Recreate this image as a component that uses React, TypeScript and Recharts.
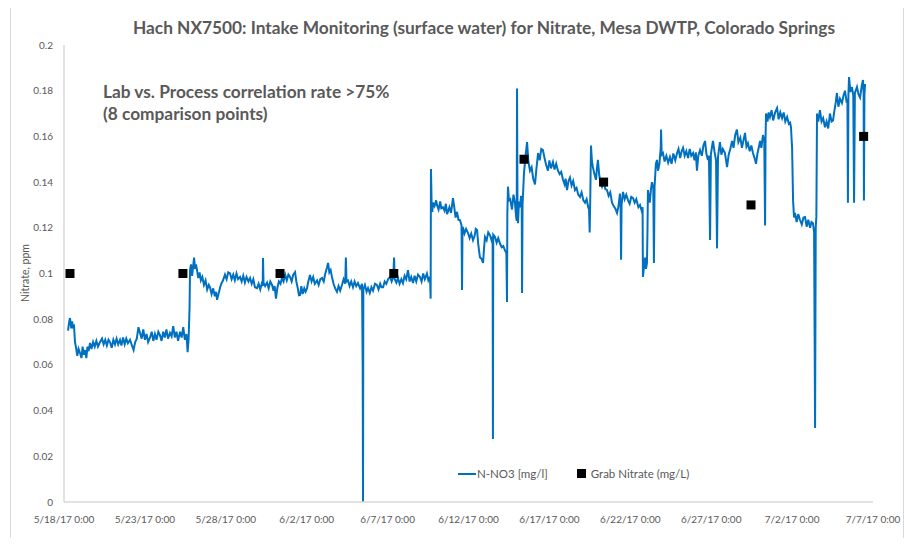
import { ComposedChart, Line, Scatter, XAxis, YAxis } from "recharts";

// days since 5/18/17 0:00
const xTicks = [0, 5, 10, 15, 20, 25, 30, 35, 40, 45, 50];
const xTickLabels = [
  "5/18/17 0:00", "5/23/17 0:00", "5/28/17 0:00", "6/2/17 0:00", "6/7/17 0:00", "6/12/17 0:00",
  "6/17/17 0:00", "6/22/17 0:00", "6/27/17 0:00", "7/2/17 0:00", "7/7/17 0:00",
];
const yTicks = [0, 0.02, 0.04, 0.06, 0.08, 0.1, 0.12, 0.14, 0.16, 0.18, 0.2];

const grabDays = [0.37, 7.35, 13.35, 20.38, 28.43, 33.35, 42.46, 49.42];
const grabNitrate = [0.1, 0.1, 0.1, 0.1, 0.15, 0.14, 0.13, 0.16];

// N-NO3 probe readings [day, mg/l]
const lowPlateau = [
  [0.25,0.075],[0.3,0.078],[0.37,0.0805],[0.45,0.076],[0.5,0.079],[0.56,0.0766],[0.62,0.077],[0.68,0.07],[0.74,0.0678],
  [0.82,0.064],[0.9,0.067],[0.99,0.0652],[1.08,0.063],[1.15,0.068],[1.22,0.0645],[1.3,0.0665],[1.38,0.063],[1.45,0.068],
  [1.52,0.066],[1.61,0.0696],[1.7,0.067],[1.8,0.07],[1.9,0.068],[2.0,0.0705],[2.1,0.068],[2.23,0.07],[2.35,0.0715],
  [2.45,0.069],[2.55,0.071],[2.65,0.0685],[2.75,0.071],[2.84,0.07],[2.95,0.0675],[3.05,0.071],[3.15,0.069],[3.25,0.0715],
  [3.35,0.069],[3.46,0.0709],[3.55,0.0685],[3.65,0.072],[3.75,0.069],[3.85,0.0715],[3.95,0.0695],[4.08,0.071],[4.2,0.0685],
  [4.3,0.0665],[4.4,0.07],[4.5,0.0715],[4.6,0.0765],[4.7,0.074],[4.8,0.0715],[4.9,0.0755],[5.0,0.071],[5.1,0.0735],
  [5.2,0.07],[5.32,0.072],[5.42,0.0745],[5.52,0.0705],[5.62,0.0735],[5.72,0.071],[5.83,0.0745],[5.93,0.073],[6.03,0.0705],
  [6.13,0.0745],[6.23,0.072],[6.33,0.0755],[6.43,0.0715],[6.55,0.074],[6.65,0.0725],[6.75,0.077],[6.85,0.072],[6.95,0.0745],
  [7.05,0.0705],[7.17,0.0745],[7.27,0.072],[7.37,0.0765],[7.47,0.071],[7.57,0.0735],[7.64,0.0656],[7.7,0.071],[7.76,0.085],
  [7.79,0.1015],
];

const midPlateau = [
  [7.85,0.104],[7.92,0.099],[7.98,0.103],[8.04,0.107],[8.1,0.102],[8.16,0.104],[8.22,0.1015],[8.3,0.098],[8.38,0.1005],
  [8.46,0.097],[8.55,0.0985],[8.65,0.095],[8.75,0.097],[8.85,0.093],[8.95,0.095],[9.02,0.094],[9.12,0.091],[9.22,0.0935],
  [9.32,0.09],[9.4,0.092],[9.46,0.0885],[9.55,0.091],[9.65,0.094],[9.75,0.096],[9.83,0.097],[9.95,0.0995],[10.05,0.0975],
  [10.15,0.1005],[10.26,0.1],[10.36,0.0975],[10.46,0.0995],[10.56,0.097],[10.66,0.1],[10.76,0.0975],[10.88,0.0985],
  [10.98,0.0965],[11.08,0.099],[11.18,0.096],[11.28,0.0985],[11.4,0.0965],[11.5,0.098],[11.6,0.0955],[11.7,0.0975],
  [11.8,0.094],[11.93,0.0936],[12.03,0.0955],[12.13,0.093],[12.22,0.0955],[12.28,0.0945],[12.3,0.1068],[12.33,0.096],
  [12.43,0.0945],[12.55,0.096],[12.65,0.0935],[12.75,0.0965],[12.86,0.095],[12.95,0.0925],[13.02,0.0945],[13.1,0.089],
  [13.18,0.0935],[13.28,0.0965],[13.38,0.0955],[13.47,0.098],[13.57,0.0965],[13.67,0.0995],[13.77,0.097],[13.87,0.0995],
  [13.97,0.0985],[14.07,0.0965],[14.17,0.0995],[14.28,0.1006],[14.36,0.0965],[14.45,0.0935],[14.52,0.0905],[14.59,0.0906],
  [14.67,0.0945],[14.75,0.091],[14.85,0.0935],[14.93,0.092],[15.02,0.0936],[15.1,0.0965],[15.2,0.0993],[15.3,0.0965],
  [15.4,0.0985],[15.5,0.0955],[15.64,0.097],[15.74,0.095],[15.84,0.0975],[15.95,0.098],[16.05,0.0965],[16.15,0.1],
  [16.25,0.1025],[16.32,0.1046],[16.4,0.1005],[16.48,0.1015],[16.56,0.0985],[16.66,0.0955],[16.76,0.0935],[16.87,0.092],
  [16.97,0.0945],[17.07,0.0925],[17.18,0.095],[17.28,0.0975],[17.38,0.0955],[17.42,0.107],[17.46,0.0965],[17.55,0.097],
  [17.65,0.0945],[17.75,0.0965],[17.86,0.094],[17.96,0.0965],[18.06,0.0945],[18.17,0.0958],[18.3,0.0935],[18.42,0.0955],
  [18.46,0.059],[18.48,0],[18.5,0.093],[18.6,0.095],[18.7,0.092],[18.79,0.0936],[18.9,0.0915],[19.0,0.094],[19.1,0.0925],
  [19.22,0.0955],[19.34,0.095],[19.44,0.093],[19.54,0.0955],[19.62,0.094],[19.72,0.094],[19.82,0.0965],[19.92,0.0955],
  [20.03,0.0975],[20.15,0.0985],[20.25,0.0965],[20.35,0.0985],[20.4,0.107],[20.44,0.0975],[20.54,0.096],[20.64,0.098],
  [20.74,0.0955],[20.85,0.0975],[20.95,0.0958],[21.05,0.099],[21.15,0.0975],[21.26,0.1015],[21.36,0.0965],[21.46,0.0985],
  [21.57,0.0958],[21.67,0.099],[21.77,0.0965],[21.88,0.0995],[22.0,0.0985],[22.1,0.0965],[22.2,0.1],[22.3,0.0975],
  [22.43,0.1],[22.52,0.097],[22.62,0.0985],[22.66,0.089],[22.68,0.1457],
];

const riseSection = [
  [22.72,0.131],[22.76,0.127],[22.81,0.131],[22.9,0.1295],[23.0,0.132],[23.05,0.13],[23.15,0.128],[23.25,0.1315],
  [23.32,0.1285],[23.42,0.129],[23.52,0.1275],[23.6,0.1305],[23.68,0.126],[23.73,0.127],[23.82,0.129],[23.92,0.1265],
  [24.04,0.133],[24.12,0.129],[24.2,0.1245],[24.29,0.127],[24.38,0.1235],[24.47,0.1234],[24.57,0.121],[24.6,0.0928],
  [24.63,0.12],[24.66,0.12],[24.75,0.1175],[24.85,0.1195],[24.97,0.1177],[25.07,0.1155],[25.17,0.1175],[25.28,0.1146],
  [25.38,0.1165],[25.45,0.1195],[25.53,0.119],[25.6,0.113],[25.67,0.109],[25.71,0.107],[25.8,0.1065],[25.9,0.1046],
  [25.96,0.111],[26.02,0.116],[26.12,0.1145],[26.22,0.118],[26.33,0.1168],[26.43,0.1145],[26.49,0.116],[26.51,0.0276],
  [26.53,0.117],[26.64,0.116],[26.74,0.1135],[26.84,0.1155],[26.95,0.113],[27.05,0.1115],[27.15,0.112],[27.26,0.11],
  [27.34,0.109],[27.38,0.0875],[27.4,0.126],[27.44,0.138],[27.5,0.132],[27.58,0.1325],[27.69,0.128],[27.78,0.1345],
  [27.87,0.131],[27.94,0.125],[27.98,0.123],[28.0,0.181],[28.03,0.127],[28.06,0.122],[28.12,0.1315],[28.18,0.129],
  [28.25,0.134],[28.29,0.13],[28.31,0.0915],[28.34,0.13],[28.43,0.144],
];

const juneSection = [
  [28.52,0.151],[28.62,0.1575],[28.7,0.149],[28.8,0.145],[28.9,0.1465],[29.0,0.1415],[29.11,0.139],[29.2,0.146],
  [29.3,0.1527],[29.4,0.1495],[29.5,0.1545],[29.6,0.154],[29.7,0.1505],[29.8,0.1475],[29.91,0.145],[30.0,0.1495],
  [30.1,0.146],[30.22,0.1488],[30.32,0.1455],[30.42,0.148],[30.53,0.145],[30.63,0.1435],[30.73,0.1445],[30.84,0.141],
  [30.94,0.139],[31.0,0.1415],[31.09,0.1365],[31.18,0.1405],[31.27,0.142],[31.37,0.1385],[31.47,0.1405],[31.58,0.1365],
  [31.68,0.1375],[31.78,0.1345],[31.89,0.1335],[31.99,0.1355],[32.1,0.132],[32.2,0.131],[32.3,0.1325],[32.4,0.129],
  [32.45,0.128],[32.49,0.118],[32.53,0.135],[32.57,0.156],[32.63,0.149],[32.69,0.1466],[32.78,0.1435],[32.88,0.141],
  [32.94,0.146],[33.0,0.1497],[33.08,0.143],[33.17,0.1395],[33.25,0.138],[33.35,0.1405],[33.45,0.137],[33.56,0.1365],
  [33.66,0.134],[33.76,0.1355],[33.87,0.131],[33.97,0.1295],[34.07,0.1285],[34.18,0.1265],[34.27,0.1295],[34.36,0.135],
  [34.4,0.129],[34.43,0.106],[34.46,0.13],[34.55,0.1357],[34.65,0.1325],[34.75,0.1345],[34.86,0.132],[34.96,0.1305],
  [35.06,0.1335],[35.17,0.133],[35.27,0.131],[35.37,0.1325],[35.5,0.129],[35.6,0.13],[35.7,0.1275],[35.76,0.129],
  [35.78,0.0985],[35.85,0.103],[35.91,0.107],[35.97,0.102],[36.03,0.1046],[36.06,0.118],[36.09,0.1365],[36.2,0.131],
  [36.28,0.137],[36.34,0.14],[36.42,0.1375],[36.46,0.1046],[36.5,0.138],[36.58,0.148],[36.65,0.1497],[36.71,0.145],
  [36.8,0.148],[36.88,0.155],[36.9,0.163],[36.94,0.152],[37.02,0.1527],[37.12,0.149],[37.23,0.1515],[37.34,0.1485],
  [37.45,0.151],[37.55,0.148],[37.66,0.1525],[37.78,0.1495],[37.89,0.1527],[37.98,0.1545],[38.08,0.1505],[38.17,0.1535],
  [38.26,0.155],[38.36,0.1515],[38.46,0.1535],[38.57,0.1505],[38.67,0.1545],[38.77,0.1515],[38.88,0.1527],[38.97,0.1495],
  [39.05,0.153],[39.12,0.145],[39.2,0.1515],[39.31,0.154],
];

const julySection = [
  [39.42,0.1515],[39.52,0.156],[39.62,0.158],[39.7,0.1525],[39.8,0.1497],[39.86,0.1515],[39.93,0.1147],[39.98,0.152],
  [40.05,0.1555],[40.11,0.158],[40.2,0.1535],[40.3,0.1495],[40.36,0.111],[40.42,0.151],[40.54,0.1575],[40.63,0.152],
  [40.72,0.1545],[40.85,0.1527],[40.93,0.149],[40.98,0.1466],[41.08,0.152],[41.18,0.1545],[41.29,0.158],[41.38,0.155],
  [41.48,0.1605],[41.59,0.163],[41.68,0.1575],[41.8,0.1595],[41.9,0.155],[42.0,0.1585],[42.09,0.1615],[42.18,0.1555],
  [42.27,0.157],[42.38,0.1535],[42.48,0.156],[42.58,0.1527],[42.68,0.1505],[42.77,0.148],[42.86,0.1525],[42.95,0.1555],
  [43.02,0.158],[43.1,0.155],[43.2,0.1606],[43.28,0.158],[43.33,0.121],[43.36,0.16],[43.39,0.17],[43.48,0.1665],
  [43.55,0.1705],[43.63,0.1685],[43.73,0.1715],[43.83,0.167],[43.95,0.1705],[44.07,0.1724],[44.17,0.1675],[44.27,0.1705],
  [44.38,0.168],[44.48,0.1705],[44.58,0.1665],[44.69,0.1685],[44.8,0.1655],[44.88,0.166],[44.93,0.164],[45.0,0.155],
  [45.06,0.132],[45.12,0.1245],[45.18,0.1265],[45.28,0.1225],[45.38,0.126],[45.49,0.1234],[45.6,0.1215],[45.7,0.1245],
  [45.8,0.1247],[45.9,0.1205],[46.0,0.1235],[46.11,0.12],[46.2,0.1225],[46.29,0.122],[46.36,0.118],[46.42,0.0324],
  [46.46,0.12],[46.5,0.125],[46.54,0.17],[46.62,0.1665],[46.72,0.1715],[46.82,0.1665],[46.92,0.168],[47.03,0.164],
  [47.13,0.1665],[47.23,0.1635],[47.34,0.17],[47.44,0.1665],[47.53,0.167],[47.62,0.1715],[47.7,0.175],[47.77,0.179],
  [47.86,0.173],[47.96,0.1765],[48.08,0.1746],[48.18,0.178],[48.27,0.18],[48.36,0.1755],[48.42,0.176],[48.45,0.131],
  [48.48,0.178],[48.52,0.186],[48.6,0.1795],[48.7,0.1816],[48.78,0.178],[48.83,0.131],[48.88,0.179],[49.01,0.1816],
  [49.1,0.1785],[49.2,0.177],[49.3,0.182],[49.38,0.1847],[49.42,0.179],[49.44,0.132],[49.47,0.178],[49.51,0.183],
];

const nitrateTrace = [...lowPlateau, ...midPlateau, ...riseSection, ...juneSection, ...julySection].map(
  ([day, value]) => ({ day, value })
);
const grabPoints = grabDays.map((day, i) => ({ day, value: grabNitrate[i] }));

const FONT = "Lato, 'Open Sans', sans-serif";
const GREY = "#595959";
const BLUE = "#0070C0";

function GrabSquare(props: any) {
  const { cx, cy } = props;
  return <rect x={cx - 4.5} y={cy - 4.5} width={9} height={9} fill="#000" />;
}

export default function App() {
  return (
    <div style={{ position: "relative", width: 900, height: 530, fontFamily: FONT }}>
      <div
        style={{
          position: "absolute",
          left: 2,
          top: -1,
          width: 894,
          height: 535,
          border: "1px solid #d9d9d9",
          borderBottom: "none",
          boxSizing: "border-box",
        }}
      />
      <div
        style={{
          position: "absolute",
          left: 476,
          top: 9,
          transform: "translateX(-50%)",
          whiteSpace: "nowrap",
          fontSize: 17.3,
          fontWeight: 700,
          color: GREY,
        }}
      >
        Hach NX7500: Intake Monitoring (surface water) for Nitrate, Mesa DWTP, Colorado Springs
      </div>
      <div
        style={{
          position: "absolute",
          left: 95,
          top: 73,
          fontSize: 17.3,
          fontWeight: 700,
          lineHeight: "22px",
          color: GREY,
        }}
      >
        Lab vs. Process correlation rate &gt;75%
        <br />
        (8 comparison points)
      </div>
      <div
        style={{
          position: "absolute",
          left: 17,
          top: 265,
          transform: "translate(-50%, -50%) rotate(-90deg)",
          whiteSpace: "nowrap",
          fontSize: 10.5,
          color: GREY,
        }}
      >
        Nitrate, ppm
      </div>
      <ComposedChart
        width={900}
        height={530}
        margin={{ top: 37, right: 35, left: 0, bottom: 6 }}
        style={{ position: "absolute", left: 0, top: 0 }}
      >
        <XAxis
          type="number"
          dataKey="day"
          domain={[0, 50]}
          ticks={xTicks}
          tickFormatter={(v: number) => xTickLabels[xTicks.indexOf(v)] ?? ""}
          tickLine={false}
          tickSize={6}
          tickMargin={8}
          height={30}
          axisLine={{ stroke: "#d9d9d9", strokeWidth: 1.5 }}
          tick={{ fill: GREY, fontSize: 10, fontFamily: FONT }}
          interval={0}
        />
        <YAxis
          type="number"
          dataKey="value"
          domain={[0, 0.2]}
          ticks={yTicks}
          tickFormatter={(v: number) => String(Number(v.toFixed(2)))}
          tickLine={false}
          tickSize={6}
          tickMargin={5}
          width={56}
          axisLine={{ stroke: "#d9d9d9", strokeWidth: 1.5 }}
          tick={{ fill: GREY, fontSize: 10, fontFamily: FONT }}
          interval={0}
        />
        <Line
          data={nitrateTrace}
          dataKey="value"
          type="linear"
          stroke={BLUE}
          strokeWidth={2}
          dot={false}
          isAnimationActive={false}
        />
        <Scatter data={grabPoints} dataKey="value" shape={GrabSquare} isAnimationActive={false} />
      </ComposedChart>
      <div
        style={{
          position: "absolute",
          left: 450,
          top: 459,
          display: "flex",
          alignItems: "center",
          fontSize: 11.5,
          color: GREY,
          whiteSpace: "nowrap",
        }}
      >
        <span style={{ display: "inline-block", width: 18, height: 2, background: BLUE }} />
        <span style={{ marginLeft: 1 }}>N-NO3 [mg/l]</span>
        <span style={{ display: "inline-block", width: 9, height: 9, background: "#000", marginLeft: 29 }} />
        <span style={{ marginLeft: 5 }}>Grab Nitrate (mg/L)</span>
      </div>
    </div>
  );
}
